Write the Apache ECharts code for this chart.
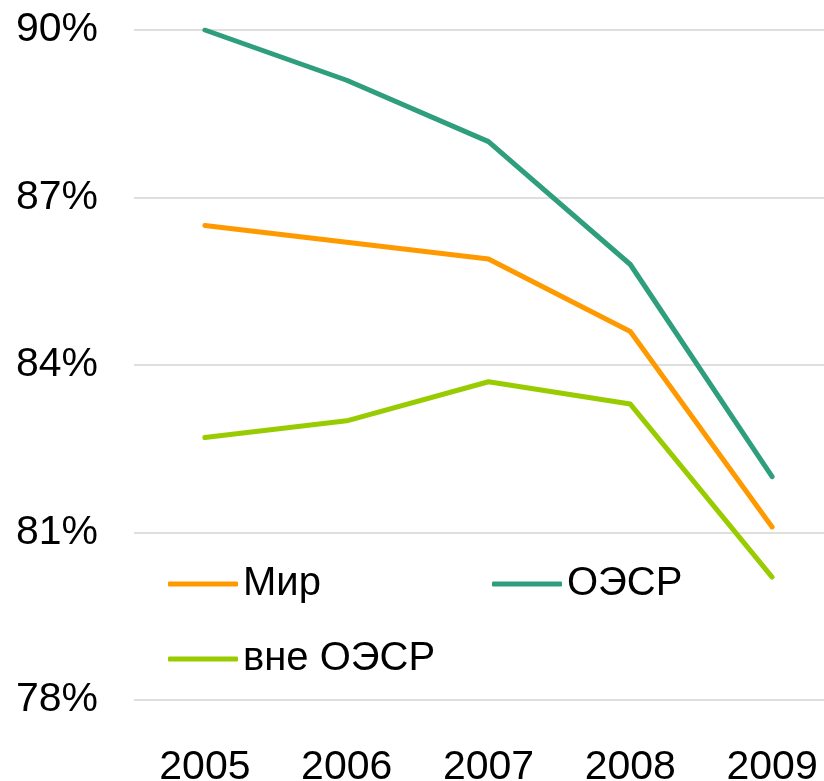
<!DOCTYPE html>
<html>
<head>
<meta charset="utf-8">
<script src="https://cdn.jsdelivr.net/npm/echarts@6/dist/echarts.min.js"></script>
<style>
  html, body { margin: 0; padding: 0; background: #fff; }
  #chart { width: 824px; height: 781px; }
</style>
</head>
<body>
<div id="chart"></div>
<script>
// годы
var years = ['2005', '2006', '2007', '2008', '2009'];
// значения, %
var mir = [86.5, 86.2, 85.9, 84.6, 81.1];
var oecd = [90.0, 89.1, 88.0, 85.8, 82.0];
var nonOecd = [82.7, 83.0, 83.7, 83.3, 80.2];

var font = 'Liberation Sans, Arial, sans-serif';

var makeLine = function(name, data, color){
    return {
        name: name,
        type: 'line',
        data: data,
        symbol: 'none',
        showSymbol: false,
        itemStyle: { color: color },
        lineStyle: { width: 5, color: color, cap: 'round', join: 'round' }
    };
};

var makeLegend = function(name, left, top){
    return {
        show: true,
        data: [name],
        left: left,
        top: top,
        icon: 'roundRect',
        itemWidth: 70,
        itemHeight: 5,
        textStyle: { fontSize: 40, color: '#000', fontFamily: font }
    };
};

var chart = echarts.init(document.getElementById('chart'));
var option = {
    animation: false,
    backgroundColor: '#fff',
    grid: { left: 134, top: 30, width: 709, height: 670, containLabel: false, outerBoundsMode: 'none' },
    legend: [
        makeLegend('Мир', 163, 559),
        makeLegend('ОЭСР', 487, 559),
        makeLegend('вне ОЭСР', 163, 634)
    ],
    xAxis: {
        type: 'category',
        data: years,
        boundaryGap: true,
        axisLine: { show: false },
        axisTick: { show: false },
        axisLabel: { fontSize: 41, color: '#000', fontFamily: font, margin: 47 }
    },
    yAxis: {
        type: 'value',
        min: 78,
        max: 90,
        interval: 3,
        axisLine: { show: false },
        axisTick: { show: false },
        splitLine: { lineStyle: { color: '#d4d4d4', width: 1.5 } },
        axisLabel: {
            fontSize: 41, color: '#000', fontFamily: font, margin: 36,
            formatter: function(v){ return v + '%'; }
        }
    },
    series: [
        makeLine('Мир', mir, '#ff9900'),
        makeLine('ОЭСР', oecd, '#2e9e7c'),
        makeLine('вне ОЭСР', nonOecd, '#99cc00')
    ]
};
chart.setOption(option);
</script>
</body>
</html>
